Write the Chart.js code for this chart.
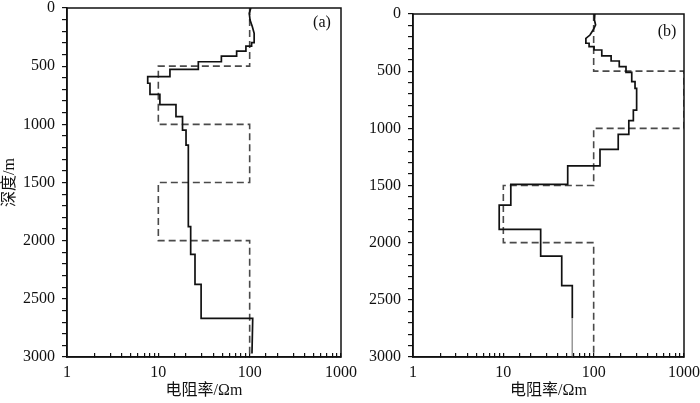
<!DOCTYPE html>
<html>
<head>
<meta charset="utf-8">
<script src="https://cdn.jsdelivr.net/npm/chart.js@4.4.1/dist/chart.umd.min.js"></script>
<style>
  html, body { margin: 0; padding: 0; background: #fff; }
  #wrap { position: relative; width: 700px; height: 403px; overflow: hidden; }
  canvas { position: absolute; top: 0; }
</style>
</head>
<body>
<div id="wrap">
  <canvas id="panelA" width="360" height="403" style="left:0px"></canvas>
  <canvas id="panelB" width="350" height="403" style="left:350px"></canvas>
</div>
<script>
// tick labels
const xLabels = [1, 10, 100, 1000];
const yLabels = [0, 500, 1000, 1500, 2000, 2500, 3000];

// true models (layer tops, m) and resistivities (Ohm m)
const modelTop = [0, 500, 1000, 1500, 2000];
const modelBottom = 3000;
const modelRhoA = [100, 10, 100, 10, 100];
const modelRhoB = [100, 1000, 100, 10, 100];

// inversion result (a), vertices of the curve
const invDepthA = [0, 46, 103, 161, 217, 260, 298, 298, 327, 327, 370, 370, 413, 413, 462, 462, 527, 527, 590, 590, 647, 647, 742, 742, 830, 830, 934, 934, 1049, 1049, 1178, 1178, 1880, 1880, 2117, 2117, 2375, 2375, 2668, 2668, 2970];
const invRhoA = [103, 99, 101, 107, 112, 112, 112, 105, 105, 91, 91, 72, 72, 49, 49, 27.4, 27.4, 13.4, 13.4, 7.65, 7.65, 8.1, 8.1, 10.4, 10.4, 15.6, 15.6, 18.4, 18.4, 20.1, 20.1, 21.3, 21.3, 22.6, 22.6, 25.2, 25.2, 29.4, 29.4, 108, 106];

// inversion result (b)
const invDepthB = [0, 52, 96, 140, 184, 213, 256, 256, 286, 286, 315, 315, 367, 367, 411, 411, 461, 461, 510, 510, 592, 592, 650, 650, 840, 840, 933, 933, 1052, 1052, 1184, 1184, 1329, 1329, 1490, 1490, 1671, 1671, 1883, 1883, 2117, 2117, 2376, 2376, 2660];
const invRhoB = [103, 102, 105, 98.6, 91, 82, 82, 89, 89, 101, 101, 123, 123, 156, 156, 192, 192, 228, 228, 264, 264, 287, 287, 299, 299, 275, 275, 245, 245, 187, 187, 117.5, 117.5, 51.6, 51.6, 12.1, 12.1, 9, 9, 25.9, 25.9, 44.3, 44.3, 58, 58];
// faint tail at the bottom of (b)
const tailDepthB = [2660, 3000];
const tailRhoB = [58, 58];

Chart.defaults.font.family = "'Liberation Serif', 'Noto Sans CJK SC', serif";
Chart.defaults.font.size = 16;
Chart.defaults.color = '#111';

function steps(tops, bottom, rho) {
  const pts = [];
  tops.forEach((t, i) => {
    const b = i + 1 < tops.length ? tops[i + 1] : bottom;
    pts.push({x: rho[i], y: t}, {x: rho[i], y: b});
  });
  return pts;
}

function zip(depth, rho) {
  return depth.map((d, i) => ({x: rho[i], y: d}));
}

// frame round the plot area and the panel tag
const framePlugin = {
  id: 'frame',
  afterDraw(chart, args, opts) {
    const {ctx, chartArea: a} = chart;
    ctx.save();
    ctx.strokeStyle = '#111';
    ctx.lineWidth = 1.5;
    ctx.strokeRect(a.left, a.top, a.right - a.left, a.bottom - a.top);
    ctx.font = "16px 'Liberation Serif'";
    ctx.fillStyle = '#111';
    ctx.textAlign = 'center';
    ctx.textBaseline = 'middle';
    ctx.fillText(opts.tag, a.right - opts.dx, a.top + opts.dy);
    ctx.restore();
  }
};

function makePanel(id, cfg) {
  const datasets = [
    {
      data: zip(cfg.invDepth, cfg.invRho),
      borderColor: '#111', borderWidth: 1.7,
      pointRadius: 0, showLine: true, order: 1
    },
    {
      data: steps(modelTop, modelBottom, cfg.modelRho),
      borderColor: '#4a4a4a', borderWidth: 1.6, borderDash: [7, 4],
      pointRadius: 0, showLine: true, order: 2
    }
  ];
  if (cfg.tail) {
    datasets.push({
      data: zip(cfg.tail.depth, cfg.tail.rho),
      borderColor: '#999', borderWidth: 1,
      pointRadius: 0, showLine: true, order: 0
    });
  }

  return new Chart(document.getElementById(id), {
    type: 'scatter',
    data: {datasets},
    options: {
      responsive: false,
      animation: false,
      events: [],
      layout: {padding: {top: cfg.top, right: cfg.right, left: 0, bottom: 0}},
      plugins: {
        legend: {display: false},
        tooltip: {enabled: false},
        frame: {tag: cfg.tag, dx: cfg.tagDx, dy: cfg.tagDy}
      },
      scales: {
        x: {
          type: 'logarithmic',
          position: 'bottom',
          min: 1, max: 1000,
          afterFit: s => { s.height = 46; s.paddingLeft = 0; s.paddingRight = 0; },
          border: {color: '#111', width: 1.5},
          grid: {drawOnChartArea: false, tickLength: -4, color: '#111', lineWidth: 1.2},
          ticks: {
            autoSkip: false, maxRotation: 0, padding: 10,
            callback: v => xLabels.includes(v) ? String(v) : ''
          },
          title: {display: true, text: '电阻率/Ωm', padding: {top: 0, bottom: 3}}
        },
        y: {
          type: 'linear',
          position: 'left',
          reverse: true,
          min: 0, max: 3000,
          afterFit: s => { s.width = cfg.yWidth; s.paddingTop = 0; s.paddingBottom = 0; },
          border: {color: '#111', width: 1.5},
          grid: {drawOnChartArea: false, tickLength: 5, color: '#111', lineWidth: 1.2},
          ticks: {
            stepSize: 100, autoSkip: false, padding: 7,
            callback: v => yLabels.includes(v) ? String(v) : ''
          },
          title: {display: cfg.yTitle, text: '深度/m', padding: {top: 0, bottom: 0}}
        }
      }
    },
    plugins: [framePlugin]
  });
}

makePanel('panelA', {
  invDepth: invDepthA, invRho: invRhoA, modelRho: modelRhoA,
  top: 8, right: 19, yWidth: 67, yTitle: true,
  tag: '(a)', tagDx: 19, tagDy: 15
});

makePanel('panelB', {
  invDepth: invDepthB, invRho: invRhoB, modelRho: modelRhoB,
  tail: {depth: tailDepthB, rho: tailRhoB},
  top: 14, right: 16, yWidth: 63, yTitle: false,
  tag: '(b)', tagDx: 17, tagDy: 18
});
</script>
</body>
</html>
